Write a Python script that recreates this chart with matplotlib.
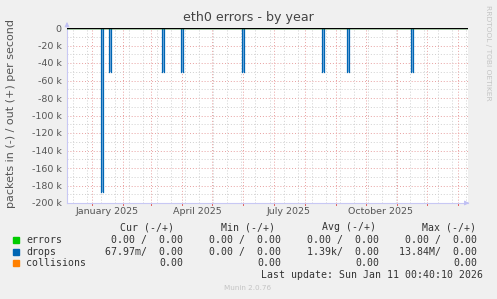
import datetime as dt
import matplotlib
matplotlib.use("Agg")
import matplotlib.pyplot as plt
import matplotlib.dates as mdates
from matplotlib.patches import Rectangle

# data
start = dt.datetime(2024, 12, 7)
end = dt.datetime(2026, 1, 11)
spike_days = ["2025-01-10", "2025-01-18", "2025-03-12", "2025-03-31",
              "2025-05-31", "2025-08-18", "2025-09-12", "2025-11-15"]
spike_depth = [-187000, -50000, -50000, -50000, -50000, -50000, -50000, -50000]
spike_len_days = 2

y_ticks = [0, -20000, -40000, -60000, -80000, -100000, -120000, -140000,
           -160000, -180000, -200000]
month_labels = ["January 2025", "April 2025", "July 2025", "October 2025"]
label_months = [1, 4, 7, 10]

series = ["errors", "drops", "collisions"]
colors = ["#00cc00", "#0066b3", "#ff8000"]
cur = ["0.00 /  0.00", "67.97m/  0.00", "0.00"]
mins = ["0.00 /  0.00", "0.00 /  0.00", "0.00"]
avgs = ["0.00 /  0.00", "1.39k/  0.00", "0.00"]
maxs = ["0.00 /  0.00", "13.84M/  0.00", "0.00"]
last_update = "Last update: Sun Jan 11 00:40:10 2026"

W, H = 497, 299
fig = plt.figure(figsize=(W / 100, H / 100), dpi=100, facecolor="#f0f0f0")


def fx(x):
    return x / W


def fy(y):
    return 1 - y / H


ax = fig.add_axes([fx(67), fy(203), fx(468) - fx(67), fy(28) - fy(203)])
ax.set_facecolor("white")
ax.set_xlim(start, end)
ax.set_ylim(-200000, 0)

red = "#e8a0a0"
grey = "#cfcfcf"
dots = (0, (1, 2))

# horizontal grid
for v in range(-190000, 0, 20000):
    ax.axhline(v, color=grey, lw=0.7, ls=dots, zorder=1)
for v in y_ticks[1:-1]:
    ax.axhline(v, color=red, lw=0.7, ls=dots, zorder=1)

# vertical grid: minor every two weeks, major every month
d = dt.datetime(2024, 12, 13)
while d < end:
    ax.axvline(d, color=grey, lw=0.7, ls=dots, zorder=1)
    d += dt.timedelta(days=14)
months = []
d = dt.datetime(2025, 1, 1)
while d < end:
    months.append(d)
    ax.axvline(d, color=red, lw=0.7, ls=dots, zorder=1)
    d = dt.datetime(d.year + d.month // 12, d.month % 12 + 1, 1)

# drops spikes: light fill with dark edges
for day, depth in zip(spike_days, spike_depth):
    x0 = mdates.date2num(dt.datetime.fromisoformat(day))
    x1 = x0 + spike_len_days
    ax.fill_between([x0, x1], [depth, depth], 0, color="#7fb2e0", lw=0,
                    zorder=3)
    ax.plot([x0, x0], [0, depth], color="#0066b3", lw=0.9, zorder=3)
    ax.plot([x1, x1], [0, depth], color="#0066b3", lw=0.9, zorder=3)

ax.axhline(0, color="#00cc00", lw=1, zorder=4)
ax.axhline(0, color="black", lw=1, zorder=5)

ax.set_yticks(y_ticks)
ax.set_yticklabels(["0" if v == 0 else "%d k" % (v // 1000) for v in y_ticks])
ax.tick_params(axis="y", length=0, labelsize=6.8, colors="#555555", pad=4)

label_pos = [dt.datetime(2025, m, 16) for m in label_months]
ax.set_xticks(label_pos)
ax.set_xticklabels(month_labels)
ax.tick_params(axis="x", length=0, labelsize=6.8, colors="#555555", pad=3)
for m in months:
    ax.plot([m, m], [0, -0.012], transform=ax.get_xaxis_transform(),
            color="#e06060", lw=0.7, clip_on=False)

for s in ["top", "right"]:
    ax.spines[s].set_visible(False)
for s in ["left", "bottom"]:
    ax.spines[s].set_color("#c8c8f4")
    ax.spines[s].set_linewidth(0.8)
ax.annotate("", xy=(1.01, 0), xytext=(0.99, 0), xycoords="axes fraction",
            arrowprops=dict(arrowstyle="-|>", color="#c0c0f4", lw=0.6,
                            mutation_scale=7))
ax.annotate("", xy=(0, 1.05), xytext=(0, 0.99), xycoords="axes fraction",
            arrowprops=dict(arrowstyle="-|>", color="#c0c0f4", lw=0.6,
                            mutation_scale=7))

fig.text(fx(248), fy(18), "eth0 errors - by year", ha="center", va="center",
         fontsize=9.1, color="#444444")
fig.text(fx(11), fy(113), "packets in (-) / out (+) per second", rotation=90,
         ha="center", va="center", fontsize=8, color="#555555")
fig.text(fx(488), fy(53), "RRDTOOL / TOBI OETIKER", rotation=270,
         ha="center", va="center", fontsize=5.4, color="#c4c4c4")

# legend table
mono = dict(family="DejaVu Sans Mono", fontsize=7.1, color="#333333", va="center")
for x, head in zip([174, 275, 376, 476],
                   ["Cur (-/+)", "Min (-/+)", "Avg (-/+)", "Max (-/+)"]):
    fig.text(fx(x), fy(227), head, ha="right", **mono)
rows_y = [240, 252, 263]
for i, name in enumerate(series):
    y = rows_y[i]
    fig.patches.append(Rectangle((fx(13), fy(y + 3)), fx(6), fy(0) - fy(6),
                                 transform=fig.transFigure,
                                 color=colors[i], figure=fig))
    fig.text(fx(26), fy(y), name, ha="left", **mono)
    for x, col in zip([183, 281, 379, 477], [cur, mins, avgs, maxs]):
        fig.text(fx(x), fy(y), col[i], ha="right", **mono)
fig.text(fx(483), fy(275), last_update, ha="right", **mono)
fig.text(fx(248), fy(288), "Munin 2.0.76", ha="center", va="center",
         fontsize=5.2, color="#c4c4c4")

fig.savefig("out.png", dpi=100, facecolor=fig.get_facecolor())
